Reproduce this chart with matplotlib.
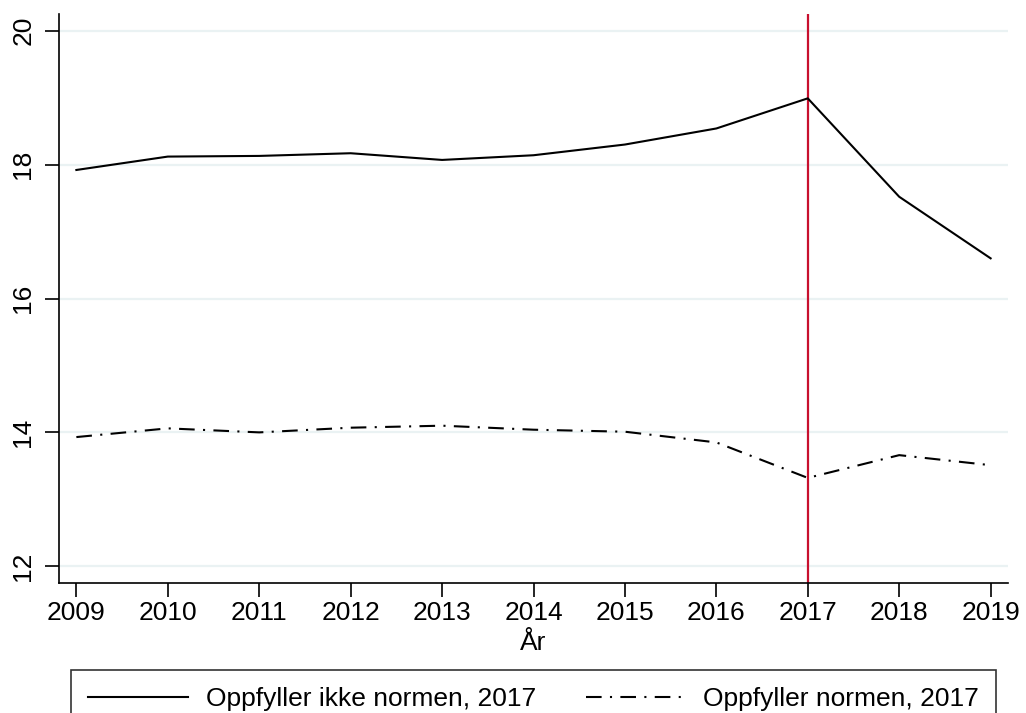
import matplotlib
matplotlib.use("Agg")
import matplotlib.pyplot as plt

plt.rcParams['font.family'] = ['Liberation Sans', 'DejaVu Sans']

years = [2009, 2010, 2011, 2012, 2013, 2014, 2015, 2016, 2017, 2018, 2019]
ikke_normen = [17.92, 18.12, 18.13, 18.17, 18.07, 18.14, 18.30, 18.54, 18.99, 17.52, 16.60]
normen = [13.93, 14.06, 14.00, 14.07, 14.10, 14.04, 14.01, 13.85, 13.32, 13.66, 13.51]
labels = ["Oppfyller ikke normen, 2017", "Oppfyller normen, 2017"]
cutoff_year = 2017

fig = plt.figure(figsize=(10.26, 7.13), dpi=100)
ax = fig.add_axes([59 / 1026, 1 - 583 / 713, (1008 - 59) / 1026, (583 - 14) / 713])

for y in [12, 14, 16, 18, 20]:
    ax.axhline(y, color="#eaf2f3", lw=1.6, zorder=0)

ax.axvline(cutoff_year, color="#c8102e", lw=1.6, zorder=1)
ax.plot(years, ikke_normen, color="black", lw=1.5, label=labels[0], zorder=2)
ax.plot(years, normen, color="black", lw=1.5, linestyle=(0, (7.5, 4.0, 1.0, 4.0)),
        label=labels[1], zorder=2)

ax.set_xlim(2008.81, 2019.19)
ax.set_ylim(11.75, 20.25)
ax.set_xticks(years)
ax.set_yticks([12, 14, 16, 18, 20])
ax.tick_params(labelsize=19, length=10, width=1.2, direction="out")
ax.tick_params(axis="x", pad=3)
ax.tick_params(axis="y", pad=7)
for lab in ax.get_yticklabels():
    lab.set_rotation(90)
    lab.set_va("center")
ax.spines["top"].set_visible(False)
ax.spines["right"].set_visible(False)
ax.spines["left"].set_linewidth(1.2)
ax.spines["bottom"].set_linewidth(1.2)
ax.set_xlabel("År", fontsize=19, labelpad=4)

leg = fig.legend(loc="upper left", bbox_to_anchor=(71 / 1026, 1 - 670 / 713, (996 - 71) / 1026, 0),
                 ncol=2, fontsize=19, frameon=True, fancybox=False, edgecolor="black",
                 handlelength=3.8, handletextpad=0.65, columnspacing=2.8, borderpad=0.65,
                 borderaxespad=0, mode="expand")
leg.get_frame().set_linewidth(1.2)

fig.savefig("out.png", dpi=100)
